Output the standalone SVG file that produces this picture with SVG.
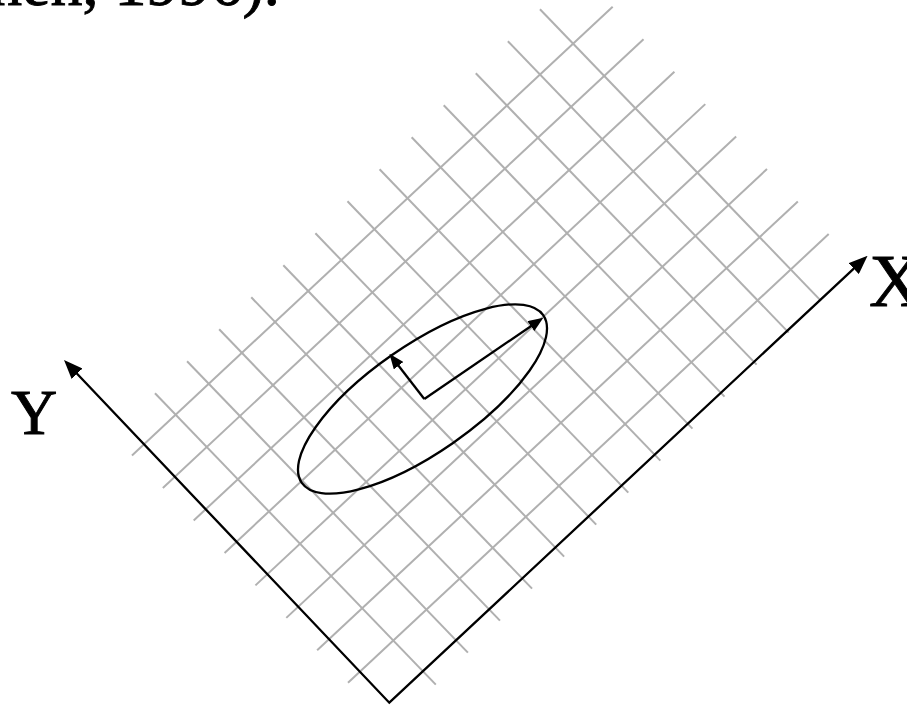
<svg xmlns="http://www.w3.org/2000/svg" width="907" height="707" viewBox="0 0 907 707">
<style>
.grid line{stroke:#b0b0b0;stroke-width:2;fill:none}
.ink{stroke:#000;stroke-width:2.3;fill:none}
.lbl{font-family:"Liberation Serif","Times New Roman",serif;fill:#000;stroke:#000;stroke-width:0.9}
</style>
<defs>
<marker id="bigArrow" markerUnits="userSpaceOnUse" viewBox="0 0 19 15" refX="10" refY="7.5" markerWidth="19" markerHeight="15" orient="auto-start-reverse"><path d="M0,0 L19,7.5 L0,15 z" fill="#000"/></marker>
<marker id="smallArrow" markerUnits="userSpaceOnUse" viewBox="0 0 15 12" refX="7" refY="6" markerWidth="15" markerHeight="12" orient="auto"><path d="M0,0 L15,6 L0,12 z" fill="#000"/></marker>
</defs>
<rect width="907" height="707" fill="#fff"/>
<text class="lbl" x="-10" y="5" font-size="64">hen, 1996).</text>
<g id="grid" class="grid">
<line x1="435.8" y1="684.6" x2="155" y2="393.3"/>
<line x1="467.88" y1="652.6" x2="187.08" y2="361.3"/>
<line x1="499.96" y1="620.6" x2="219.16" y2="329.3"/>
<line x1="532.04" y1="588.6" x2="251.24" y2="297.3"/>
<line x1="564.12" y1="556.6" x2="283.32" y2="265.3"/>
<line x1="596.2" y1="524.6" x2="315.4" y2="233.3"/>
<line x1="628.28" y1="492.6" x2="347.48" y2="201.3"/>
<line x1="660.36" y1="460.6" x2="379.56" y2="169.3"/>
<line x1="692.44" y1="428.6" x2="411.64" y2="137.3"/>
<line x1="724.52" y1="396.6" x2="443.72" y2="105.3"/>
<line x1="756.6" y1="364.6" x2="475.8" y2="73.3"/>
<line x1="788.68" y1="332.6" x2="507.88" y2="41.3"/>
<line x1="820.76" y1="300.6" x2="539.96" y2="9.3"/>
<line x1="348" y1="682.8" x2="828.7" y2="234"/>
<line x1="317.14" y1="650.33" x2="797.84" y2="201.53"/>
<line x1="286.28" y1="617.86" x2="766.98" y2="169.06"/>
<line x1="255.42" y1="585.39" x2="736.12" y2="136.59"/>
<line x1="224.56" y1="552.92" x2="705.26" y2="104.12"/>
<line x1="193.7" y1="520.45" x2="674.4" y2="71.65"/>
<line x1="162.84" y1="487.98" x2="643.54" y2="39.18"/>
<line x1="131.98" y1="455.51" x2="612.68" y2="6.71"/>
</g>
<g id="axes">
<path class="ink" d="M70.2,366.5 L389.3,702.7 L861.0,261.8" stroke-linejoin="miter" marker-start="url(#bigArrow)" marker-end="url(#bigArrow)"/>
<text class="lbl" x="869" y="306" font-size="75">X</text>
<text class="lbl" x="11" y="433.5" font-size="64">Y</text>
</g>
<g id="ellipse">
<ellipse class="ink" cx="422.5" cy="399" rx="147" ry="53.5" transform="rotate(-34.8 422.5 399)"/>
</g>
<g id="vectors">
<line class="ink" x1="424.3" y1="399" x2="536.7" y2="322.2" marker-end="url(#smallArrow)"/>
<line class="ink" x1="424.3" y1="399" x2="394.3" y2="360.2" marker-end="url(#smallArrow)"/>
</g>
</svg>
